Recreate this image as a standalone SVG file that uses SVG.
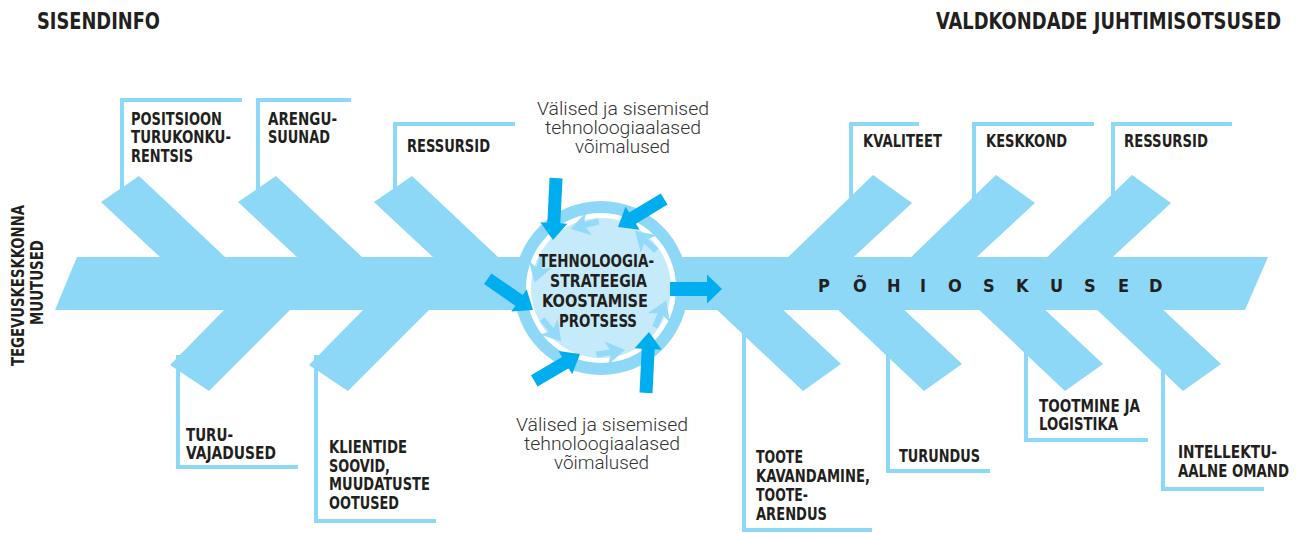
<svg xmlns="http://www.w3.org/2000/svg" width="1299" height="533" viewBox="0 0 1299 533">
<style>
.bar{fill:#8dd7f7}
.frm{fill:none;stroke:#8dd7f7;stroke-width:4;stroke-linejoin:miter}
.lb{font-family:"DejaVu Sans Condensed","DejaVu Sans","Liberation Sans",sans-serif;font-weight:bold;font-size:18px;fill:#231f20}
.lt{font-family:Roboto,"Liberation Sans",sans-serif;font-weight:300;font-size:18px;fill:#333}
.ttl{font-family:"DejaVu Sans Condensed","DejaVu Sans","Liberation Sans",sans-serif;font-weight:bold;font-size:23px;fill:#231f20}
.dk{fill:#00aeef}
.ca{fill:#8dd7f7;opacity:0.9}
</style>
<defs>
<path id="chev" d="M14,0 L-5,-12 L-1,-3 L-15,-3 L-15,3 L-1,3 L-5,12 Z"/>
</defs>
<rect width="1299" height="533" fill="#fff"/>

<g id="titles">
<text class="ttl" x="37" y="29" textLength="123" lengthAdjust="spacingAndGlyphs">SISENDINFO</text>
<text class="ttl" transform="translate(936,29) scale(0.75,1)" x="0" y="0" textLength="460" lengthAdjust="spacingAndGlyphs">VALDKONDADE JUHTIMISOTSUSED</text>
</g>

<g id="frames">
<path class="frm" d="M122,200 V100 H242"/>
<path class="frm" d="M258,200 V100 H351"/>
<path class="frm" d="M395,200 V124 H515"/>
<path class="frm" d="M178,355 V467 H298"/>
<path class="frm" d="M316,355 V521 H436"/>
<path class="frm" d="M851,210 V124 H919"/>
<path class="frm" d="M974,210 V124 H1094"/>
<path class="frm" d="M1113,210 V124 H1232"/>
<path class="frm" d="M744,320 V530 H872"/>
<path class="frm" d="M888,340 V471 H990"/>
<path class="frm" d="M1026,340 V440 H1148"/>
<path class="frm" d="M1163,340 V489 H1264"/>
</g>

<g id="spine">
<polygon class="bar" points="77,257 1268,257 1245,310 55,310"/>
<polygon class="bar" points="101,202 139,176 233.5,265 168.5,265"/>
<polygon class="bar" points="238,202 276,176 370.5,265 305.5,265"/>
<polygon class="bar" points="374,202 412,176 506.5,265 441.5,265"/>
<polygon class="bar" points="229,305 295,305 209,391 170,365"/>
<polygon class="bar" points="368,305 434,305 348,391 309,365"/>
<polygon class="bar" points="780,265 873,175 912,203 845,265"/>
<polygon class="bar" points="903,265 996,175 1035,203 968,265"/>
<polygon class="bar" points="1039,265 1132,175 1171,203 1104,265"/>
<polygon class="bar" points="712,305 778,305 841,364 803,391"/>
<polygon class="bar" points="833,305 899,305 962,364 924,391"/>
<polygon class="bar" points="974,305 1040,305 1103,364 1065,391"/>
<polygon class="bar" points="1092,305 1158,305 1221,364 1183,391"/>
</g>

<g id="process">
<circle cx="601" cy="288" r="87" fill="#8dd7f7"/>
<circle cx="601" cy="288" r="75" fill="#fff"/>
<circle cx="601" cy="288" r="70" fill="#c5eaf9"/>
<use href="#chev" class="ca" transform="translate(660.8,313.4) rotate(-67)"/>
<use href="#chev" class="ca" transform="translate(611.2,352.2) rotate(-9)"/>
<use href="#chev" class="ca" transform="translate(551.9,330.6) rotate(49)"/>
<use href="#chev" class="ca" transform="translate(538.8,269) rotate(107)"/>
<use href="#chev" class="ca" transform="translate(584.2,225.2) rotate(165)"/>
<use href="#chev" class="ca" transform="translate(645.3,240.5) rotate(223)"/>
<text class="lb" x="539" y="267" textLength="115" lengthAdjust="spacingAndGlyphs">TEHNOLOOGIA-</text>
<text class="lb" x="550" y="287" textLength="97" lengthAdjust="spacingAndGlyphs">STRATEEGIA</text>
<text class="lb" x="542" y="307" textLength="106" lengthAdjust="spacingAndGlyphs">KOOSTAMISE</text>
<text class="lb" x="559" y="327" textLength="78" lengthAdjust="spacingAndGlyphs">PROTSESS</text>
</g>

<g id="connectors">
<path class="dk" d="M-62,-6.5 H-17 V-13.5 L0,0 L-17,13.5 V6.5 H-62 Z" transform="translate(553,240) rotate(92.8)"/>
<path class="dk" d="M-54,-6.5 H-17 V-13.5 L0,0 L-17,13.5 V6.5 H-54 Z" transform="translate(618,227) rotate(148.7)"/>
<path class="dk" d="M-55,-6.5 H-17 V-13.5 L0,0 L-17,13.5 V6.5 H-55 Z" transform="translate(533,310) rotate(34.6)"/>
<path class="dk" d="M-52,-7 H-15 V-14.5 L0,0 L-15,14.5 V7 H-52 Z" transform="translate(722,289)"/>
<path class="dk" d="M-53,-6.5 H-17 V-13.5 L0,0 L-17,13.5 V6.5 H-53 Z" transform="translate(580,354) rotate(-30.4)"/>
<path class="dk" d="M-61,-6.5 H-17 V-13.5 L0,0 L-17,13.5 V6.5 H-61 Z" transform="translate(649,332) rotate(-87.2)"/>
</g>

<g id="core-label">
<text class="lb" font-size="19" x="818 853 887 920 948 983 1016 1050 1084 1118 1149" y="292">PÕHIOSKUSED</text>
</g>

<g id="env-label">
<text class="lb" transform="translate(24,366) rotate(-90)" textLength="161" lengthAdjust="spacingAndGlyphs">TEGEVUSKESKKONNA</text>
<text class="lb" transform="translate(43,325) rotate(-90)" textLength="85" lengthAdjust="spacingAndGlyphs">MUUTUSED</text>
</g>

<g id="opportunities-top">
<text class="lt" x="537" y="115" textLength="172" lengthAdjust="spacingAndGlyphs">Välised ja sisemised</text>
<text class="lt" x="545" y="134" textLength="156" lengthAdjust="spacingAndGlyphs">tehnoloogiaalased</text>
<text class="lt" x="575" y="153" textLength="95" lengthAdjust="spacingAndGlyphs">võimalused</text>
</g>
<g id="opportunities-bottom">
<text class="lt" x="516" y="431" textLength="172" lengthAdjust="spacingAndGlyphs">Välised ja sisemised</text>
<text class="lt" x="524" y="450" textLength="156" lengthAdjust="spacingAndGlyphs">tehnoloogiaalased</text>
<text class="lt" x="554" y="469" textLength="95" lengthAdjust="spacingAndGlyphs">võimalused</text>
</g>

<g id="n-positsioon"><text class="lb"><tspan x="131" y="124.5" textLength="91" lengthAdjust="spacingAndGlyphs">POSITSIOON</tspan><tspan x="131" y="143" textLength="100" lengthAdjust="spacingAndGlyphs">TURUKONKU-</tspan><tspan x="131" y="161.5" textLength="62" lengthAdjust="spacingAndGlyphs">RENTSIS</tspan></text></g>
<g id="n-arengusuunad"><text class="lb"><tspan x="268" y="124.5" textLength="69" lengthAdjust="spacingAndGlyphs">ARENGU-</tspan><tspan x="268" y="143" textLength="62" lengthAdjust="spacingAndGlyphs">SUUNAD</tspan></text></g>
<g id="n-ressursid-in"><text class="lb" x="407" y="152" textLength="83" lengthAdjust="spacingAndGlyphs">RESSURSID</text></g>
<g id="n-turuvajadused"><text class="lb"><tspan x="186" y="440.5" textLength="47" lengthAdjust="spacingAndGlyphs">TURU-</tspan><tspan x="186" y="459" textLength="90" lengthAdjust="spacingAndGlyphs">VAJADUSED</tspan></text></g>
<g id="n-klientide"><text class="lb"><tspan x="329" y="453" textLength="78" lengthAdjust="spacingAndGlyphs">KLIENTIDE</tspan><tspan x="329" y="471.5" textLength="61" lengthAdjust="spacingAndGlyphs">SOOVID,</tspan><tspan x="329" y="490" textLength="101" lengthAdjust="spacingAndGlyphs">MUUDATUSTE</tspan><tspan x="329" y="508.5" textLength="70" lengthAdjust="spacingAndGlyphs">OOTUSED</tspan></text></g>
<g id="n-kvaliteet"><text class="lb" x="863" y="147" textLength="79" lengthAdjust="spacingAndGlyphs">KVALITEET</text></g>
<g id="n-keskkond"><text class="lb" x="986" y="147" textLength="81" lengthAdjust="spacingAndGlyphs">KESKKOND</text></g>
<g id="n-ressursid-out"><text class="lb" x="1124" y="147" textLength="84" lengthAdjust="spacingAndGlyphs">RESSURSID</text></g>
<g id="n-toote"><text class="lb"><tspan x="756" y="463" textLength="47" lengthAdjust="spacingAndGlyphs">TOOTE</tspan><tspan x="756" y="482" textLength="114" lengthAdjust="spacingAndGlyphs">KAVANDAMINE,</tspan><tspan x="756" y="501" textLength="52" lengthAdjust="spacingAndGlyphs">TOOTE-</tspan><tspan x="756" y="520" textLength="71" lengthAdjust="spacingAndGlyphs">ARENDUS</tspan></text></g>
<g id="n-turundus"><text class="lb" x="899" y="462" textLength="81" lengthAdjust="spacingAndGlyphs">TURUNDUS</text></g>
<g id="n-tootmine"><text class="lb"><tspan x="1039" y="411.5" textLength="101" lengthAdjust="spacingAndGlyphs">TOOTMINE JA</tspan><tspan x="1039" y="430" textLength="79" lengthAdjust="spacingAndGlyphs">LOGISTIKA</tspan></text></g>
<g id="n-intellektuaalne"><text class="lb" transform="translate(1178,0) scale(0.8,1)"><tspan x="0" y="458" textLength="123.75" lengthAdjust="spacingAndGlyphs">INTELLEKTU-</tspan><tspan x="0" y="477" textLength="138.75" lengthAdjust="spacingAndGlyphs">AALNE OMAND</tspan></text></g>
</svg>
